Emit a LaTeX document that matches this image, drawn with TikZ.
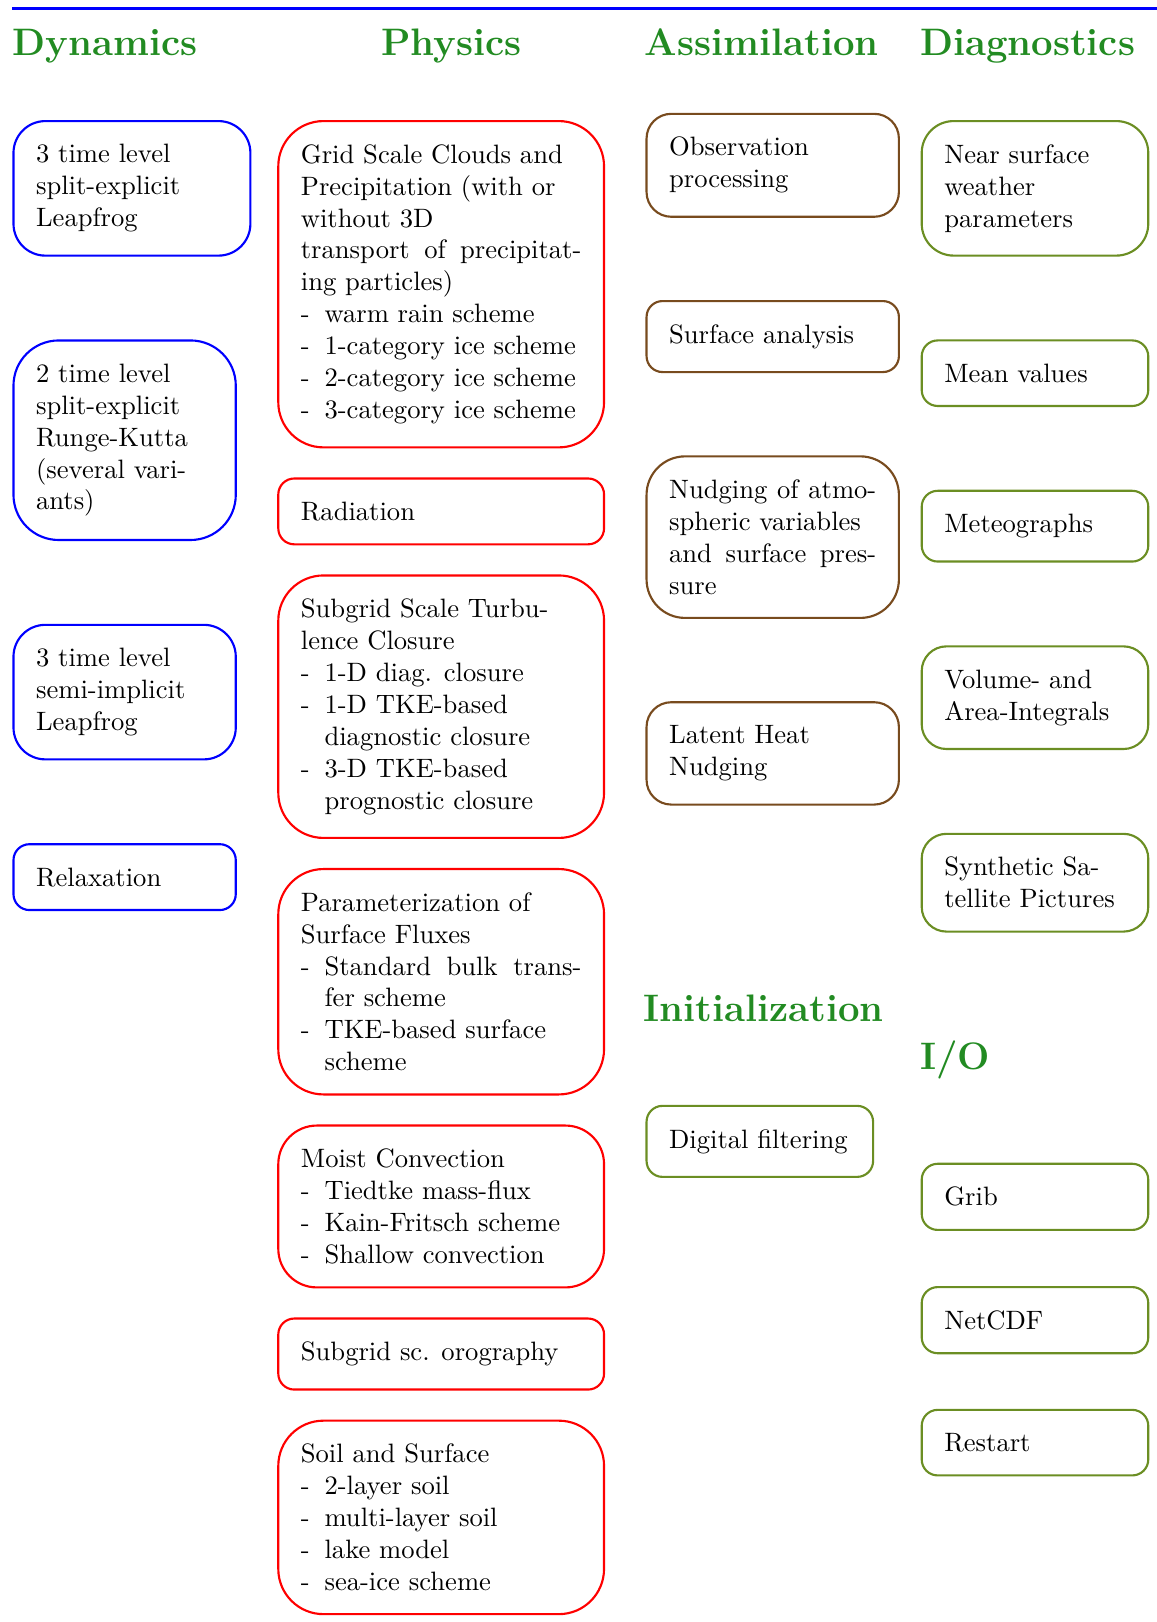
\documentclass[tikz,border=0pt]{standalone}
\usepackage{xcolor}
\usepackage{tikz}
\usetikzlibrary{positioning}
\setlength{\parindent}{0pt}
\definecolor{dynblue}{RGB}{0,0,255}
\definecolor{physred}{RGB}{255,0,0}
\definecolor{assimbrown}{RGB}{120,75,30}
\definecolor{diagolive}{RGB}{107,142,35}
\definecolor{headgreen}{RGB}{34,139,34}
\newcommand{\itm}{\\\makebox[8.9pt][l]{-}}
\newcommand{\nxt}{\\\hspace*{8.9pt}}
\newcommand{\nxtj}{\linebreak\hspace*{8.9pt}}
\tikzset{
    box/.style={
        rectangle,
        draw,
        thick,
        rounded corners=17pt,
        inner xsep=8.5pt,
        inner ysep=8.8pt,
        align=justify,
        anchor=north west
    },
    dynbox/.style={
        box,
        draw=dynblue,
        text width=66.6pt
    },
    physbox/.style={
        box,
        draw=physred,
        text width=105.5pt
    },
    assimbox/.style={
        box,
        draw=assimbrown,
        text width=77.9pt
    },
    diagbox/.style={
        box,
        draw=diagolive,
        text width=68.2pt
    },
    oneline/.style={rounded corners=6pt},
    twoline/.style={rounded corners=9.3pt},
    threeline/.style={rounded corners=12pt},
    fourline/.style={rounded corners=14.5pt},
    heading/.style={
        font=\Large\bfseries,
        text=headgreen,
        inner sep=0pt,
        anchor=base west
    },
    topline/.style={
        draw=dynblue,
        line width=1.2pt
    }
}

\begin{document}
\begin{tikzpicture}[x=0.389pt, y=-0.389pt]

\useasboundingbox (0,0) rectangle (1118,1568);
\draw[topline] (12,8) -- (1118,8);

\node[heading] (hdyn) at (12,54) {Dynamics};
\node[heading] (hphys) at (368,54) {Physics};
\node[heading] (hassim) at (623,54) {Assimilation};
\node[heading] (hdiag) at (889,54) {Diagnostics};
\node[heading] (hinit) at (622,987) {Initialization};
\node[heading] (hio) at (889,1034) {I/O};

% dynamics
\node[dynbox, threeline, text width=72.1pt] (d1) at (12,116) {3 time level\\ split-explicit\\ Leapfrog};
\node[dynbox, below=31.1pt of d1.south west, anchor=north west] (d2) {2 time level\\ split-explicit\\ Runge-Kutta\\ (several vari-\\ ants)};
\node[dynbox, threeline, below=31.1pt of d2.south west, anchor=north west] (d3) {3 time level\\ semi-implicit\\ Leapfrog};
\node[dynbox, oneline, below=31.1pt of d3.south west, anchor=north west] (d4) {Relaxation};

% physics
\node[physbox] (p1) at (268,116) {Grid Scale Clouds and\\ Precipitation (with or\\ without 3D\\ transport of precipitat-\linebreak ing particles)\itm warm rain scheme\itm 1-category ice scheme\itm 2-category ice scheme\itm 3-category ice scheme};
\node[physbox, oneline, below=10.9pt of p1.south west, anchor=north west] (p2) {Radiation};
\node[physbox, below=10.9pt of p2.south west, anchor=north west] (p3) {Subgrid Scale Turbu-\\ lence Closure\itm 1-D diag. closure\itm 1-D TKE-based\nxt diagnostic closure\itm 3-D TKE-based\nxt prognostic closure};
\node[physbox, below=10.9pt of p3.south west, anchor=north west] (p4) {Parameterization of\\ Surface Fluxes\itm Standard bulk trans-\nxtj fer scheme\itm TKE-based surface\nxt scheme};
\node[physbox, fourline, below=10.9pt of p4.south west, anchor=north west] (p5) {Moist Convection\itm Tiedtke mass-flux\itm Kain-Fritsch scheme\itm Shallow convection};
\node[physbox, oneline, below=10.9pt of p5.south west, anchor=north west] (p6) {Subgrid sc. orography};
\node[physbox, below=10.9pt of p6.south west, anchor=north west] (p7) {Soil and Surface\itm 2-layer soil\itm multi-layer soil\itm lake model\itm sea-ice scheme};

% assimilation
\node[assimbox, twoline] (a1) at (624,109) {Observation\\ processing};
\node[assimbox, oneline, below=30.9pt of a1.south west, anchor=north west] (a2) {Surface analysis};
\node[assimbox, fourline, below=30.9pt of a2.south west, anchor=north west] (a3) {Nudging of atmo-\linebreak spheric variables\\ and surface pres-\linebreak sure};
\node[assimbox, twoline, below=30.9pt of a3.south west, anchor=north west] (a4) {Latent Heat\\ Nudging};

% initialization
\node[diagbox, oneline] (i1) at (624,1068) {Digital filtering};

% diagnostics
\node[diagbox, threeline] (g1) at (890,116) {Near surface\\ weather\\ parameters};
\node[diagbox, oneline, below=31.1pt of g1.south west, anchor=north west] (g2) {Mean values};
\node[diagbox, oneline, below=31.1pt of g2.south west, anchor=north west] (g3) {Meteographs};
\node[diagbox, twoline, below=31.1pt of g3.south west, anchor=north west] (g4) {Volume- and\\ Area-Integrals};
\node[diagbox, twoline, below=31.1pt of g4.south west, anchor=north west] (g5) {Synthetic Sa-\\ tellite Pictures};

% input/output
\node[diagbox, oneline] (o1) at (890,1124) {Grib};
\node[diagbox, oneline, below=20.7pt of o1.south west, anchor=north west] (o2) {NetCDF};
\node[diagbox, oneline, below=20.5pt of o2.south west, anchor=north west] (o3) {Restart};

\end{tikzpicture}
\end{document}
